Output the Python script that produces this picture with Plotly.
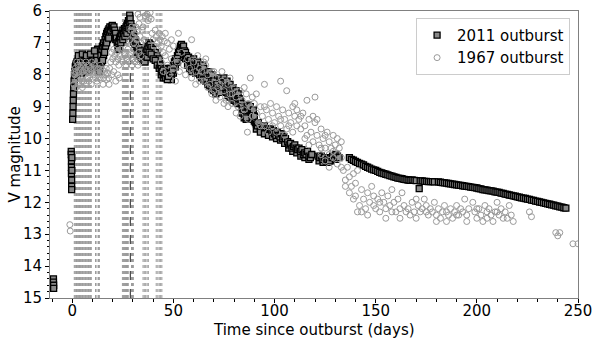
import plotly.graph_objects as go

# ---------------- data ----------------
obs_2011 = [
    (-9.3, 14.4), (-9.3, 14.5), (-9.2, 14.6), (-9.2, 14.7),
    (-0.5, 10.4), (-0.5, 10.5), (-0.4, 10.7), (-0.4, 10.9), (-0.4, 11.1), (-0.3, 11.3), (-0.3, 11.5), (-0.3, 11.6), (-0.2, 10.6), (-0.2, 11.0),
    (0.2, 9.4), (0.3, 9.2), (0.4, 9.0), (0.5, 8.8), (0.6, 8.6), (0.7, 8.4), (0.9, 8.2), (1.1, 8.0), (1.3, 7.9), (1.5, 7.75), (1.8, 7.7), (2.0, 7.65),
    (2.3, 7.6), (2.6, 7.75), (3.0, 7.55), (3.3, 7.7), (3.7, 7.5), (4.0, 7.65), (4.4, 7.8), (4.8, 7.55), (5.2, 7.65), (5.6, 7.5), (6.0, 7.7), (6.4, 7.55),
    (6.8, 7.6), (7.2, 7.75), (7.6, 7.5), (8.0, 7.6), (8.4, 7.45), (8.8, 7.6), (9.2, 7.7), (9.6, 7.5), (10.0, 7.55), (10.5, 7.4), (11.0, 7.45), (11.5, 7.3),
    (12.0, 7.4), (12.5, 7.2), (13.0, 7.8), (13.4, 7.9), (13.8, 7.7),
    (2.5, 7.85), (3.5, 7.9), (4.5, 7.95), (5.5, 7.85), (6.5, 7.9), (7.5, 7.8), (8.5, 7.85), (9.5, 7.75), (10.3, 7.7), (11.2, 7.6), (12.2, 7.55),
    (3.0, 7.4), (5.0, 7.35), (7.0, 7.4), (9.0, 7.35), (11.0, 7.25),
    (14.2, 7.4), (14.6, 7.2), (15.0, 7.1), (15.4, 7.0), (15.8, 7.15), (16.2, 6.9), (16.6, 6.8), (17.0, 6.7), (17.4, 6.65), (17.8, 6.6),
    (14.5, 7.6), (15.5, 7.4), (16.5, 7.1), (17.5, 6.9), (18.5, 6.75), (19.5, 6.7), (20.5, 6.75), (21.5, 6.9), (15.0, 7.55), (16.0, 7.3), (17.0, 7.0), (18.0, 6.85),
    (18.2, 6.55), (18.6, 6.5), (19.0, 6.6), (19.4, 6.5), (19.8, 6.45), (20.2, 6.55), (20.6, 6.5), (21.0, 6.6), (21.4, 6.7), (21.8, 6.85),
    (22.2, 7.0), (22.6, 7.1), (23.0, 6.95), (23.4, 6.85),
    (23.8, 6.8), (24.2, 6.7), (24.6, 6.75), (25.0, 6.6), (25.4, 6.7), (25.8, 6.55), (26.2, 6.6), (26.6, 6.5), (27.0, 6.45),
    (27.4, 6.4), (27.8, 6.3), (28.2, 6.35), (28.4, 6.13), (28.6, 6.25), (29.0, 6.4), (29.4, 6.5), (29.8, 6.6),
    (23.0, 7.2), (24.0, 7.0), (25.0, 6.9), (26.0, 6.8), (27.0, 6.7), (28.0, 6.55), (29.0, 6.6), (30.0, 6.9), (31.0, 7.05), (32.0, 7.3), (33.0, 7.4), (34.0, 7.5),
    (30.2, 6.7), (30.6, 6.8), (31.0, 6.9), (31.5, 7.0), (32.0, 7.1), (32.5, 7.2), (33.0, 7.15), (33.5, 7.3), (34.0, 7.25), (34.5, 7.4), (35.0, 7.35),
    (35.5, 7.5), (36.0, 7.4), (36.5, 7.3), (37.0, 7.2), (37.5, 7.1), (38.0, 7.0), (38.5, 7.05), (39.0, 7.15), (39.5, 7.3), (40.0, 7.2), (40.5, 7.4),
    (41.0, 7.3), (41.5, 7.5), (42.0, 7.4), (42.5, 7.6), (43.0, 7.5),
    (35, 7.55), (36, 7.6), (37, 7.45), (38, 7.3), (39, 7.35), (40, 7.5), (41, 7.55), (42, 7.7), (43, 7.8), (44, 8.0), (45, 8.1), (46, 7.8), (47, 7.85),
    (48, 8.1), (49, 8.15), (50, 7.95), (51, 7.75), (52, 7.6), (53, 7.45), (54, 7.35), (55, 7.35), (56, 7.5), (57, 7.7), (58, 7.8), (59, 7.9), (60, 7.8),
    (61, 7.95), (62, 7.9),
    (43.5, 7.7), (44.0, 7.8), (44.5, 7.9), (45.0, 7.85), (45.5, 8.0), (46.0, 8.1), (46.5, 7.95), (47.0, 8.15), (47.5, 8.05), (48.0, 7.9), (48.5, 7.8),
    (49.0, 7.95), (49.5, 7.85), (50.0, 7.7),
    (50.5, 7.6), (51.0, 7.5), (51.5, 7.55), (52.0, 7.4), (52.5, 7.3), (53.0, 7.2), (53.5, 7.1), (54.0, 7.05), (54.5, 7.15), (55.0, 7.1), (55.5, 7.25),
    (56.0, 7.3), (56.5, 7.4), (57.0, 7.5), (57.5, 7.45), (58.0, 7.6), (58.5, 7.55), (59.0, 7.7), (59.5, 7.65), (60.0, 7.5), (60.5, 7.6), (61.0, 7.7), (61.5, 7.75),
    (62.0, 7.6), (62.5, 7.8), (63.0, 7.7), (63.5, 7.9), (64.0, 7.85), (64.5, 7.7), (65.0, 7.8), (65.5, 8.0), (66.0, 7.95), (66.5, 8.1), (67.0, 8.0),
    (67.5, 7.9), (68.0, 8.1), (68.5, 8.2), (69.0, 8.0), (69.5, 8.3),
    (63, 8.0), (64, 8.1), (65, 8.15), (66, 8.2), (67, 8.3), (68, 8.35), (69, 8.45), (70, 8.5), (71, 8.6), (72, 8.25), (73, 8.1), (74, 8.55), (75, 8.45),
    (76, 8.55), (77, 8.65), (78, 8.7), (79, 8.75), (80, 8.8), (81, 8.85), (82, 8.9), (84, 9.2), (85, 9.35), (86, 9.4), (88, 9.3), (89, 9.4), (90, 9.45), (91, 9.7),
    (70.0, 8.2), (70.5, 8.35), (71.0, 8.4), (71.5, 8.3), (72.0, 8.5), (72.5, 8.4), (73.0, 8.55), (73.5, 8.3), (74.0, 8.2), (74.5, 8.4), (75.0, 8.1),
    (75.5, 8.25), (76.0, 8.35), (76.5, 8.2), (77.0, 8.4), (77.5, 8.5), (78.0, 8.3), (78.5, 8.45), (79.0, 8.6), (79.5, 8.4), (80.0, 8.55), (80.5, 8.7),
    (81.0, 8.5), (81.5, 8.65), (82.0, 8.6), (82.5, 8.75),
    (83.0, 8.8), (83.5, 8.9), (84.0, 9.0), (84.5, 9.1), (85.0, 9.2), (85.5, 9.3), (86.0, 9.35), (86.5, 9.0), (87.0, 8.95), (87.5, 9.1), (88.0, 9.0),
    (88.5, 9.2), (89.0, 9.25), (89.5, 9.1), (90.0, 9.3), (90.5, 9.5), (91.0, 9.55), (91.5, 9.6), (92.0, 9.5),
    (93.0, 9.65), (94.0, 9.7), (95.0, 9.6), (96.0, 9.7), (97.0, 9.75),
    (93, 9.8), (95, 9.85), (97, 9.9), (99, 9.95), (101, 10.0), (103, 10.05), (105, 10.15), (107, 10.3), (109, 10.4), (111, 10.45), (113, 10.55),
    (115, 10.6), (117, 10.65), (122, 10.7), (124, 10.75), (126, 10.75), (128, 10.7), (130, 10.65),
    (98.0, 9.7), (98.7, 9.8), (99.4, 9.75), (100.0, 9.85), (100.7, 9.9), (101.4, 9.8), (102.0, 9.9), (102.7, 9.95), (103.4, 9.85), (104.0, 10.0),
    (104.7, 9.95), (105.4, 10.0),
    (106.5, 10.1), (107.2, 10.2), (107.9, 10.15), (108.6, 10.3), (109.3, 10.25), (110.0, 10.2), (110.7, 10.3), (111.4, 10.35), (112.1, 10.3),
    (112.8, 10.4), (113.5, 10.35), (114.2, 10.5), (114.9, 10.45), (115.6, 10.5), (116.3, 10.4), (117.0, 10.55), (117.7, 10.6), (118.4, 10.5),
    (121.5, 10.55), (122.3, 10.6), (123.1, 10.55), (123.9, 10.65), (124.7, 10.6), (125.5, 10.7), (126.3, 10.65), (127.1, 10.7), (127.9, 10.6),
    (128.7, 10.55), (129.5, 10.6), (130.3, 10.5), (131.1, 10.55), (131.9, 10.6),
    (137, 10.6), (138, 10.65), (139, 10.68), (140, 10.72), (141, 10.75), (142, 10.78), (143, 10.8), (144, 10.83), (145, 10.87), (146, 10.9),
    (147, 10.93), (148, 10.96), (149, 10.98), (150, 11.0), (151, 11.03), (152, 11.06), (153, 11.08), (154, 11.1), (155, 11.12), (156, 11.14),
    (157, 11.16), (158, 11.18), (159, 11.2), (160, 11.22), (161, 11.24), (162, 11.25), (163, 11.26), (164, 11.28), (165, 11.29), (166, 11.3),
    (167, 11.31), (168, 11.3), (169, 11.31), (170, 11.32), (171.5, 11.57), (172, 11.33), (173, 11.33), (174, 11.34), (175, 11.34), (176, 11.35),
    (177, 11.35), (178, 11.35), (179, 11.36), (181, 11.36), (182, 11.37), (183, 11.38), (184, 11.39), (185, 11.4), (186, 11.41), (187, 11.42),
    (188, 11.43), (189, 11.44), (190, 11.45), (191, 11.46), (192, 11.47), (193, 11.48), (194, 11.49), (195, 11.5), (196, 11.51), (197, 11.52),
    (198, 11.53), (199, 11.54), (200, 11.55), (201, 11.57), (202, 11.58), (203, 11.6), (204, 11.61), (205, 11.62), (206, 11.63), (207, 11.64),
    (208, 11.65), (209, 11.67), (210, 11.68), (211, 11.69), (212, 11.71), (213, 11.72), (214, 11.74), (215, 11.75), (216, 11.77), (217, 11.78),
    (218, 11.8), (219, 11.81), (220, 11.83), (221, 11.84), (222, 11.86), (223, 11.87), (224, 11.88), (225, 11.9), (226, 11.91), (227, 11.93),
    (228, 11.94), (229, 11.96), (230, 11.97), (231, 11.99), (232, 12.0), (233, 12.02), (234, 12.03), (235, 12.05), (236, 12.06), (237, 12.08),
    (238, 12.09), (239, 12.11), (240, 12.12), (241, 12.14), (242, 12.15), (243, 12.17), (244, 12.18),
]

obs_1967 = [
    (-1.2, 12.7), (-1.0, 12.9),
    (0.8, 8.3), (1.2, 8.0), (1.5, 7.8), (1.8, 8.4), (2.0, 7.9), (2.4, 8.1), (2.8, 7.7), (3.0, 8.3), (3.2, 7.9), (3.6, 8.0), (4.0, 7.6), (4.4, 7.8),
    (4.8, 8.2), (5.0, 8.4), (5.2, 7.9), (5.6, 7.7), (6.0, 8.0), (6.4, 7.8), (6.8, 7.6), (7.2, 7.9), (7.6, 8.1), (8.0, 7.7), (8.4, 7.9), (8.8, 8.0),
    (9.2, 7.8), (9.6, 7.6), (10.0, 7.9),
    (1.0, 7.9), (2.2, 7.6), (3.4, 8.2), (4.6, 7.7), (5.8, 8.2), (7.0, 8.3), (8.2, 8.2), (9.4, 8.3), (10.8, 7.7), (12.2, 8.2), (13.8, 7.7), (15.2, 8.3),
    (16.8, 7.8), (18.2, 8.3), (19.5, 8.0), (20.5, 7.9), (21.5, 8.2),
    (10.5, 8.0), (11.0, 7.8), (11.5, 8.1), (12.0, 7.9), (12.5, 8.0), (13.0, 7.8), (13.5, 8.1), (14.0, 7.9), (14.5, 8.0), (15.0, 7.85), (15.5, 8.1),
    (16.0, 7.9), (16.5, 8.0), (17.0, 8.15), (17.5, 7.95), (18.0, 8.1), (18.5, 7.8),
    (19.0, 7.6), (19.5, 7.3), (20.0, 7.5), (20.5, 7.2), (21.0, 7.4), (21.5, 7.6), (22.0, 7.3), (22.5, 7.5), (23.0, 7.7), (23.5, 7.4), (24.0, 7.2),
    (24.5, 7.5), (25.0, 7.6), (25.5, 7.3), (26.0, 7.4), (26.5, 7.7), (27.0, 7.5), (27.5, 7.2), (28.0, 7.6), (28.5, 7.4), (29.0, 7.3), (29.5, 7.7),
    (30.0, 7.5), (30.5, 7.2), (31.0, 7.6), (31.5, 7.4), (32.0, 7.5), (32.5, 7.7), (33.0, 7.3), (33.5, 7.6), (34.0, 7.4), (22.5, 8.0), (23.3, 8.1),
    (28.5, 6.9), (29.0, 6.6), (29.5, 6.5), (30.0, 6.8), (30.5, 7.0), (31.0, 6.7), (31.5, 6.5), (32.0, 6.9), (32.5, 6.6), (33.0, 6.4), (33.5, 6.8),
    (34.0, 7.0), (34.5, 6.6), (35.0, 6.5), (35.5, 6.9),
    (32.5, 6.1), (33.5, 6.2), (35.0, 6.05), (36.0, 6.15), (37.0, 6.1), (37.5, 6.3), (38.0, 6.2), (38.5, 6.05), (39.0, 6.25),
    (39.5, 6.7), (40.0, 6.9), (40.5, 7.1), (41.0, 6.6), (41.5, 6.8), (42.0, 7.0), (42.5, 7.2), (43.0, 6.7), (43.5, 6.9), (44.0, 7.1), (44.5, 6.8),
    (45.0, 7.3), (45.5, 6.95), (46.0, 6.7), (47.0, 7.0), (48.0, 7.2), (49.0, 6.9), (50.0, 7.1),
    (44, 7.6), (45, 7.9), (46, 7.4), (47, 7.7), (48, 8.0), (49, 7.5), (50, 7.8), (51, 8.2), (52, 7.6), (53, 7.9), (54, 7.3), (55, 7.7), (56, 8.0),
    (57, 7.5), (58, 7.8), (59, 8.1), (60, 7.6), (61, 7.9), (62, 7.4), (63, 8.2), (52.5, 6.7), (59, 6.9),
    (64, 7.9), (65, 8.2), (66, 7.7), (67, 8.0), (68, 8.3), (69, 7.9), (70, 8.5), (71, 8.1), (72, 8.4), (73, 8.7), (74, 8.2), (75, 8.5), (76, 8.8),
    (77, 8.3), (78, 8.6), (79, 8.9), (80, 8.4), (81, 8.7), (82, 9.0), (83, 8.5), (84, 8.8), (85, 9.1), (86, 8.6), (87, 8.9), (86.6, 9.8),
    (66, 7.5), (70, 7.9), (74, 7.9), (78, 8.1),
    (61, 8.3), (63, 7.8), (65, 7.6), (67, 8.4), (69, 8.6), (71, 8.8), (73, 8.3), (75, 8.9), (77, 9.0), (79, 8.6), (81, 9.2), (83, 9.3), (85, 8.4),
    (87, 9.4), (89, 8.7), (91, 8.6), (93, 9.6), (95, 9.0), (97, 9.8), (99, 9.6), (101, 9.8), (103, 9.4), (105, 9.9), (107, 9.6), (109, 9.8),
    (111, 9.1), (113, 9.3),
    (88, 9.0), (89, 9.3), (90, 8.9), (91, 9.2), (92, 9.5), (93, 9.0), (94, 9.3), (95, 9.6), (96, 9.1), (97, 9.4), (98, 8.9), (99, 9.2), (100, 9.5),
    (101, 9.0), (102, 9.3), (103, 9.6), (104, 9.1), (105, 9.4), (106, 9.7), (107, 9.2), (108, 9.5), (109, 9.0), (110, 9.3), (111, 9.6), (112, 9.4),
    (113, 9.7),
    (88, 8.1), (95, 8.3), (103, 8.2), (106, 8.5), (110, 8.9), (116, 8.8), (120, 8.7),
    (114, 9.2), (115, 9.6), (116, 9.9), (117, 9.4), (118, 9.8), (119, 10.1), (120, 9.5), (121, 9.9), (122, 10.2), (123, 9.7), (124, 10.0),
    (125, 10.3), (126, 9.8), (127, 10.1), (128, 10.3), (129, 9.9), (130, 10.2), (131, 10.0), (132, 10.3), (133, 10.1),
    (115, 10.0), (117, 10.2), (119, 9.3), (121, 9.4), (123, 10.3), (125, 9.9), (127, 10.5), (129, 10.4), (131, 10.5), (133, 10.9),
    (123, 10.5), (125, 10.7), (127, 10.9), (129, 10.6), (131, 10.8), (133, 10.6),
    (134, 11.0), (135, 11.3), (136, 10.9), (137, 11.2), (138, 11.5), (139, 11.1), (140, 11.4), (141, 11.0),
    (135, 11.5), (137, 11.7), (139, 11.9), (141, 12.3),
    (140, 11.8), (142, 12.1), (143, 11.6), (144, 11.9), (145, 12.2), (146, 11.7), (147, 12.0), (148, 11.5), (149, 11.8), (150, 12.2), (151, 11.9),
    (152, 12.3), (153, 11.7), (154, 12.0), (155, 12.2), (156, 11.8), (157, 12.1), (158, 11.6), (159, 12.0), (160, 12.3), (161, 11.9), (162, 12.2),
    (163, 11.7), (164, 12.1),
    (143, 12.3), (146, 12.4), (149, 12.1), (152, 12.0), (155, 12.5), (158, 12.3), (162, 12.5), (165, 12.3), (170, 11.9), (175, 12.1), (180, 12.6),
    (185, 12.6), (190, 12.4), (195, 12.6), (200, 12.2), (205, 12.5), (210, 12.3), (215, 12.5), (218, 12.6),
    (166, 12.2), (167, 12.4), (168, 12.0), (169, 12.3), (170, 12.5), (171, 12.1), (172, 12.3), (173, 12.2), (174, 11.9), (175, 12.3), (176, 12.4),
    (177, 12.2), (178, 12.3), (179, 12.0), (180, 12.4), (181, 12.2), (182, 12.5), (183, 12.3), (184, 12.1), (185, 12.3), (186, 12.4), (187, 12.2),
    (188, 12.5), (189, 12.3), (190, 12.1), (191, 12.4), (192, 12.2), (193, 12.3), (194, 11.9), (195, 12.4), (196, 12.2),
    (198, 12.0), (199, 12.3), (200, 12.5), (201, 12.2), (202, 12.4), (203, 12.6), (204, 12.1), (205, 12.3), (206, 12.2), (207, 12.4), (208, 12.6),
    (209, 12.3), (210, 12.0), (211, 12.4), (212, 12.2), (213, 12.5), (214, 12.3), (216, 12.1), (217, 12.4),
    (226, 12.3), (227, 12.45), (239, 12.95), (240, 13.05), (241, 12.95), (247.5, 13.3), (250, 13.3),
]

# times of the unconstrained (full-range) measurements, drawn as dotted bars
limit_times = [1.0, 1.4, 1.8, 2.1, 2.5, 2.9, 3.2, 3.6, 4.0, 4.3, 4.7, 5.1, 5.4, 5.8, 6.2, 6.6, 6.9, 7.3, 7.7, 8.0, 8.4, 8.8, 9.1, 9.4,
               11.5, 12.2, 13.0, 13.4,
               24.8, 25.3, 25.8, 26.3, 26.8, 27.3, 27.7, 29.3, 29.8, 30.2,
               35.0, 35.6, 36.3, 37.0, 37.6,
               41.5, 42.3, 43.0, 43.7, 44.3]
limit_times_dark = [28.7]
mag_span = [15, 6]

x_ticks = [0, 50, 100, 150, 200, 250]
y_ticks = [6, 7, 8, 9, 10, 11, 12, 13, 14, 15]
x_label = "Time since outburst (days)"
y_label = "V magnitude"

# ---------------- figure ----------------
def vlines(times):
    xs, ys = [], []
    for t in times:
        xs += [t, t, None]
        ys += [mag_span[0], mag_span[1], None]
    return xs, ys

fig = go.Figure()

lx, ly = vlines(limit_times)
fig.add_trace(go.Scatter(x=lx, y=ly, mode="lines", showlegend=False, hoverinfo="skip",
                         line=dict(color="#9a9a9a", width=1, dash="dot")))
lx2, ly2 = vlines(limit_times_dark)
fig.add_trace(go.Scatter(x=lx2, y=ly2, mode="lines", showlegend=False, hoverinfo="skip",
                         line=dict(color="#222222", width=1, dash="dash")))

fig.add_trace(go.Scatter(
    x=[p[0] for p in obs_2011], y=[p[1] for p in obs_2011], mode="markers", name="2011 outburst",
    marker=dict(symbol="square", size=6, color="#888888", line=dict(color="black", width=1.3)),
    error_y=dict(type="constant", value=0.07, color="black", thickness=1, width=0),
))
fig.add_trace(go.Scatter(
    x=[p[0] for p in obs_1967], y=[p[1] for p in obs_1967], mode="markers", name="1967 outburst",
    marker=dict(symbol="circle-open", size=6, color="#9a9a9a", line=dict(width=1)),
))

font = dict(family="DejaVu Sans, sans-serif", size=15, color="black")
fig.update_layout(
    width=594, height=338, margin=dict(l=50, r=16, t=11, b=40, autoexpand=False),
    paper_bgcolor="white", plot_bgcolor="white", font=font,
    legend=dict(x=0.985, y=0.976, xanchor="right", yanchor="top", bgcolor="rgba(255,255,255,0.85)",
                bordercolor="#cccccc", borderwidth=1, font=dict(size=15)),
    annotations=[
        dict(text=x_label, xref="paper", yref="paper", x=0.5, y=-0.1115, xanchor="center", yanchor="middle",
             showarrow=False, font=dict(size=15)),
        dict(text=y_label, xref="paper", yref="paper", x=-0.0663, y=0.5, xanchor="center", yanchor="middle",
             textangle=-90, showarrow=False, font=dict(size=15)),
    ],
)
fig.update_xaxes(range=[-11, 250], tickvals=x_ticks, ticks="outside", ticklen=4, tickcolor="black",
                 tickfont=dict(size=15), ticklabelstandoff=-5,
                 showgrid=False, zeroline=False, showline=True, linecolor="#808080", mirror=True,
                 automargin=False,
                 minor=dict(dtick=10, ticks="outside", ticklen=2.5, tickcolor="black"))
fig.update_yaxes(range=[15, 6], tickvals=y_ticks, ticks="outside", ticklen=4, tickcolor="black",
                 tickfont=dict(size=15),
                 showgrid=False, zeroline=False, showline=True, linecolor="#808080", mirror=True,
                 automargin=False,
                 minor=dict(dtick=0.2, ticks="outside", ticklen=2.5, tickcolor="black"))

fig.write_html("out.html")
